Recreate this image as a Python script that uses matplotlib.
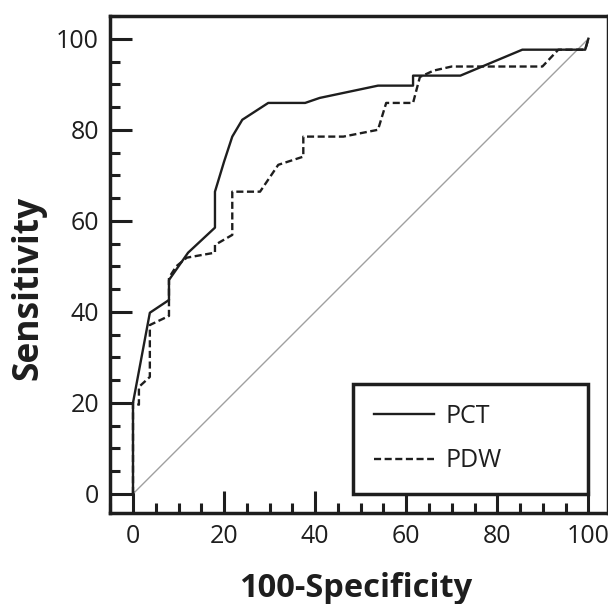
import matplotlib
matplotlib.use('Agg')
from matplotlib import pyplot as plt
from matplotlib.ticker import MultipleLocator

# ROC curve points (x = 100-specificity, y = sensitivity)
pct_x = [0, 0, 3.7, 7.9, 7.9, 12.1, 18.0, 18.0, 20.0, 21.8, 24.0, 29.7, 37.8, 41.0,
         53.8, 61.5, 61.5, 71.9, 85.5, 99.3, 100]
pct_y = [0, 20, 39.8, 42.6, 47.0, 53.0, 58.5, 66.4, 73.0, 78.5, 82.2, 85.9, 85.9, 87.0,
         89.7, 89.7, 91.9, 91.9, 97.6, 97.6, 100]

pdw_x = [0, 0, 1.3, 1.3, 3.7, 3.7, 7.9, 7.9, 9.5, 11.8, 18.0, 18.0, 21.8, 21.8, 27.9,
         31.9, 37.4, 37.4, 46.2, 53.8, 55.6, 61.5, 63.0, 66.0, 70.0, 89.9, 93.4, 99.3, 100]
pdw_y = [0, 20, 19.6, 23.5, 25.7, 37.1, 39.1, 47.5, 50.0, 51.9, 53.0, 54.7, 56.9, 66.4, 66.4,
         72.3, 74.1, 78.5, 78.5, 80.0, 85.9, 85.9, 91.6, 93.0, 93.9, 93.9, 97.6, 97.6, 100]

ref_x = [0, 100]
ref_y = [0, 100]

ticks = [0, 20, 40, 60, 80, 100]

ink = '#1e1e1e'
plt.rcParams['font.family'] = ['Open Sans', 'DejaVu Sans']

fig = plt.figure(figsize=(6.08, 6.04), dpi=100)
ax = fig.add_axes([110 / 608, (604 - 513) / 604, 497.5 / 608, (513 - 16) / 604])

ax.plot(ref_x, ref_y, color='#a0a0a0', linewidth=1.0)
ax.plot(pct_x, pct_y, color=ink, linewidth=1.7, label='PCT')
ax.plot(pdw_x, pdw_y, color=ink, linewidth=1.7, dashes=(3.0, 1.5), label='PDW')

ax.set_xlim(-5.05, 104.2)
ax.set_ylim(-4.2, 105)
ax.set_xticks(ticks)
ax.set_yticks(ticks)
ax.xaxis.set_minor_locator(MultipleLocator(5))
ax.yaxis.set_minor_locator(MultipleLocator(5))
ax.tick_params(which='major', direction='in', length=15.5, width=2.2, color=ink,
               labelsize=18, labelcolor=ink, pad=8)
ax.tick_params(which='minor', direction='in', length=7.5, width=2.2, color=ink)

for s in ax.spines.values():
    s.set_linewidth(2.5)
    s.set_color(ink)

ax.set_xlabel('100-Specificity', fontsize=23.5, fontweight='bold', color=ink)
ax.set_ylabel('Sensitivity', fontsize=25.5, fontweight='bold', color=ink)
ax.xaxis.set_label_coords(0.493, -0.118)
ax.yaxis.set_label_coords(-0.128, 0.453)

leg = ax.legend(loc='lower left', bbox_to_anchor=(48.4, 0, 51.6, 24.2),
                bbox_transform=ax.transData, mode='expand', borderaxespad=0,
                fontsize=18, frameon=True, fancybox=False, edgecolor=ink,
                framealpha=1, handlelength=2.4, handletextpad=0.45,
                labelspacing=0.77, borderpad=0.82, labelcolor=ink)
leg.get_frame().set_linewidth(2.5)

fig.savefig('out.png', dpi=100)
